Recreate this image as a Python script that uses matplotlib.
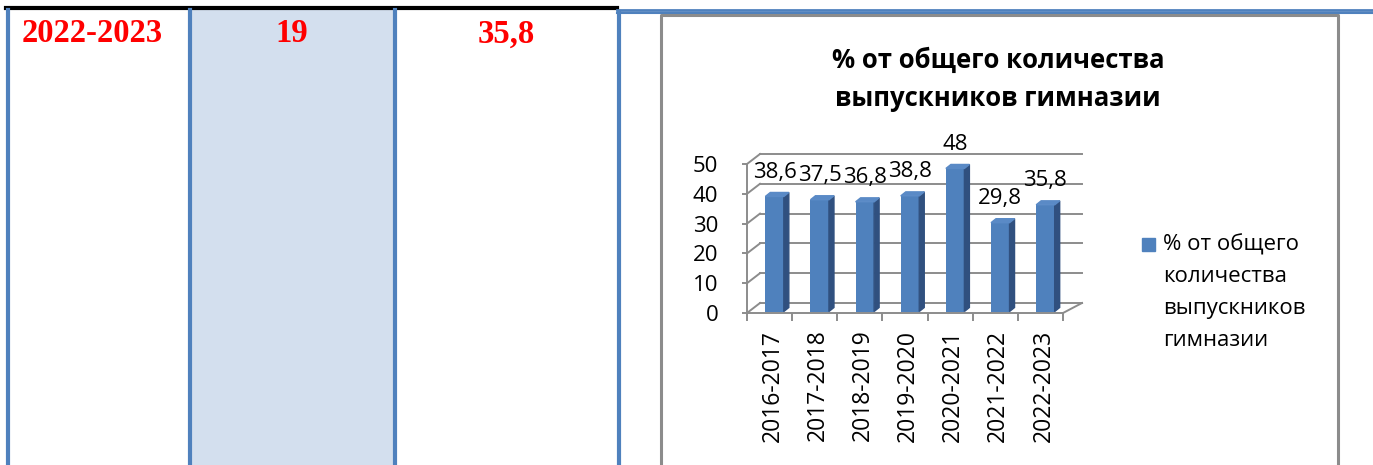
import matplotlib.pyplot as plt
from matplotlib.patches import Polygon, Rectangle
from matplotlib.transforms import ScaledTranslation

# table row at the left of the screenshot
row_year = "2022-2023"
row_count = "19"
row_percent = "35,8"

# chart data
years = ["2016-2017", "2017-2018", "2018-2019", "2019-2020",
         "2020-2021", "2021-2022", "2022-2023"]
percents = [38.6, 37.5, 36.8, 38.8, 48, 29.8, 35.8]
y_ticks = [0, 10, 20, 30, 40, 50]
chart_title = ["% от общего количества", "выпускников гимназии"]
legend_lines = ["% от общего", "количества", "выпускников", "гимназии"]

plt.rcParams['font.family'] = ['Open Sans', 'DejaVu Sans']

W, H = 1373, 465
fig = plt.figure(figsize=(W / 100, H / 100), dpi=100)

# background layer in pixel coordinates (table lines, frames)
bg = fig.add_axes([0, 0, 1, 1])
bg.set_xlim(0, W)
bg.set_ylim(H, 0)
bg.axis('off')

tbl_blue = '#4f81bd'
bg.add_patch(Rectangle((190, 10), 205, H - 10, color='#d3dfee', zorder=0))
bg.plot([6, 617], [8.5, 8.5], color='black', lw=3)
for x in [8, 190, 395]:
    bg.plot([x, x], [10, H], color=tbl_blue, lw=3)
bg.plot([618.5, 618.5], [12.5, H], color=tbl_blue, lw=3)
bg.plot([617, W], [10.2, 10.2], color=tbl_blue, lw=2)
bg.plot([617, W], [13.4, 13.4], color=tbl_blue, lw=1.5)
# chart frame
bg.plot([661, 661, 1338, 1338], [H, 15, 15, H], color='#8c8c8c', lw=2.2)

serif = dict(family='Liberation Serif', fontweight='bold', fontsize=23.5,
             color='red', ha='center', va='center')
bg.text(92, 34, row_year, **serif)
bg.text(292, 34, row_count, **serif)
bg.text(506, 34, row_percent, **serif)

# chart title
bg.text(998, 60, chart_title[0], ha='center', va='center', fontsize=18.5,
        fontweight='bold')
bg.text(998, 98, chart_title[1], ha='center', va='center', fontsize=18.5,
        fontweight='bold')

# chart axes: front plane of the 3D box
ax = fig.add_axes([747 / W, (H - 313) / H, 316 / W, 149 / H])
ax.set_xlim(-0.5, 6.5)
ax.set_ylim(0, 50)
ux = 316 / 7
uy = 149 / 50

def dx(px):
    return px / ux

def dy(px):
    return px / uy

grid_c = '#8c8c8c'
front_c = '#4f81bd'
side_c = '#30507f'
top_c = '#5a8ac6'

x0, x1 = -0.5, 6.5
for v in y_ticks:
    ax.plot([x0, x0 + dx(13)], [v, v + dy(10)], color=grid_c, lw=1.4,
            clip_on=False, zorder=1)
    ax.plot([x0 + dx(13), x1 + dx(19)], [v + dy(10)] * 2, color=grid_c,
            lw=1.4, clip_on=False, zorder=1)
ax.plot([x1, x1 + dx(19)], [0, dy(10)], color=grid_c, lw=1.4, clip_on=False,
        zorder=1)

xs = list(range(len(years)))
bx = [x + dx(5) for x in xs]
bw = dx(18.5)
base = dy(1.5)
sx, sy = dx(5), dy(4)
ax.bar(bx, percents, width=bw, bottom=base, color=front_c, zorder=3)
for x, v in zip(bx, percents):
    r = x + bw / 2
    l = x - bw / 2
    ax.add_patch(Polygon([(r, base), (r + sx, base + sy), (r + sx, base + v + sy),
                          (r, base + v)], closed=True, color=side_c, zorder=3,
                         clip_on=False))
    ax.add_patch(Polygon([(l, base + v), (r, base + v), (r + sx, base + v + sy),
                          (l + sx, base + v + sy)], closed=True, color=top_c,
                         zorder=3, clip_on=False))
    ax.annotate(f"{v:g}".replace('.', ','), xy=(x, base + v), xytext=(0, 17.6),
                textcoords='offset points', ha='center', va='center',
                fontsize=16, annotation_clip=False)

for s in ['top', 'right']:
    ax.spines[s].set_visible(False)
for s in ['left', 'bottom']:
    ax.spines[s].set_color(grid_c)
    ax.spines[s].set_linewidth(1.4)
ax.patch.set_alpha(0)

ax.set_yticks(y_ticks)
ax.tick_params(axis='y', length=3.6, width=1.4, color=grid_c, pad=17,
               labelsize=16)
ax.set_xticks(xs, years, rotation=90)
ax.set_xticks([x - 0.5 for x in range(len(years) + 1)], minor=True)
ax.tick_params(axis='x', which='major', length=0, pad=12, labelsize=16.5)
ax.tick_params(axis='x', which='minor', length=6, width=1.4, color=grid_c)
for lab in ax.get_xticklabels():
    lab.set_transform(lab.get_transform() + ScaledTranslation(0.03, 0, fig.dpi_scale_trans))

# legend
bg.add_patch(Rectangle((1142, 238), 13, 13, color=front_c))
for i, line in enumerate(legend_lines):
    bg.text(1163, 245 + i * 31.7, line, va='center', fontsize=16)

fig.savefig('out.png', dpi=100)
